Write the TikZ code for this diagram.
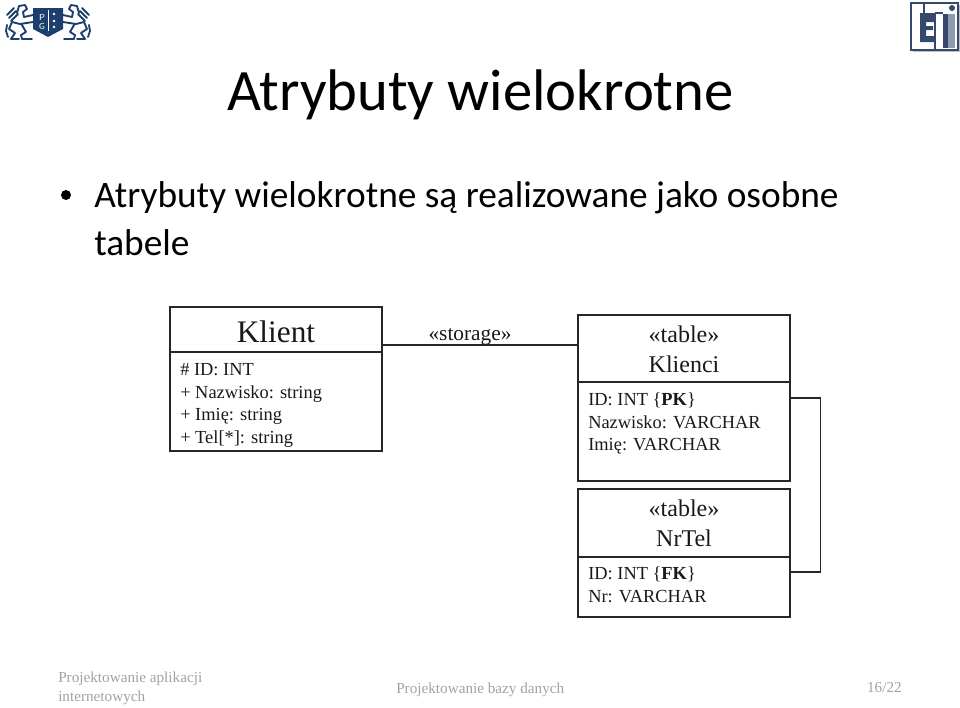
\documentclass[tikz,border=0pt]{standalone}
\usepackage{fontspec}
\setmainfont{Liberation Serif}
\newfontfamily\slidefont{Carlito}
\definecolor{pgnavy}{HTML}{1D3F6E}
\definecolor{etislate}{HTML}{34496B}
\definecolor{footgray}{HTML}{A2A2A2}
\tikzset{
  txt/.style={anchor=base west,inner sep=0pt},
  ctxt/.style={anchor=base,inner sep=0pt},
  umlbox/.style={draw=black!85,line width=0.9pt,inner sep=0pt,minimum width=159pt},
  link/.style={draw=black!85,line width=1pt},
  title/.style={txt,font=\slidefont\fontsize{44}{44}\selectfont},
  bullettext/.style={txt,font=\slidefont\fontsize{28}{28}\selectfont},
  attr/.style={txt,font=\fontsize{13.8}{13.8}\selectfont,text=black!90},
  stereo/.style={ctxt,font=\fontsize{18}{18}\selectfont,text=black!90},
  foot/.style={txt,font=\fontsize{11.4}{11.4}\selectfont,text=footgray},
  lionline/.style={pgnavy,line width=1.4pt,line join=round,line cap=round}
}
\begin{document}
\begin{tikzpicture}[x=0.75pt,y=0.75pt,yscale=-1,xscale=1]
    \useasboundingbox (0,0) rectangle (960,707);

    %Shape: university crest
    \foreach \flip/\move in {1/0pt,-1/72pt} {
    \begin{scope}[xshift=\move,xscale=\flip]
    \draw [lionline]
      (17,13) -- (19,6) -- (25,5) -- (27,9) -- (23,12) -- (24,17) -- (33,15)
      (7,15) -- (14,8) (9,18) -- (16,11) (11,21) -- (18,14)
      (12,22) -- (20,24) -- (33,22)
      (12,22) -- (9,29) -- (15,33) -- (11,39) -- (19,39)
      (22,25) -- (26,32) -- (21,35) -- (22,39) -- (32,39)
      (7,25) -- (6,31) -- (8,37);
    \end{scope}
    }
    \fill [pgnavy] (33,8) -- (63,8) -- (63,29) -- (48,37) -- (33,29) -- cycle ;
    \draw [white,line width=0.5pt] (48,10) -- (48,31) ;
    \draw (42,17) node (crestp) [white,font=\sffamily\fontsize{6.5}{6.5}\selectfont,inner sep=0pt] {P};
    \draw (42,26) node (crestg) [white,font=\sffamily\fontsize{6.5}{6.5}\selectfont,inner sep=0pt] {G};
    \fill [white] (54,14) circle (1.4) (54,21) circle (1.4) (54,27) circle (1.4);

    %Shape: faculty mark
    \fill [black!25] (913,5) rectangle (960,52) ;
    \fill [white] (911,3) rectangle (958,50) ;
    \fill [etislate] (920,13) rectangle (935,22) (920,13) rectangle (926,42) (920,26) rectangle (933,30) (920,36) rectangle (935,42) ;
    \fill [etislate] (943,14) rectangle (948,48) ;
    \fill [etislate!55] (948,14) rectangle (955,48) ;
    \fill [etislate] (952,8) circle (3) ;
    \draw [etislate,line width=1.2pt] (911,3) rectangle (958,50) (924,3) -- (924,13) (935,13) -- (935,50) (935,13) -- (943,13) ;

    % Text Node
    \draw (227,110) node (title) [title] {Atrybuty wielokrotne};
    % Text Node
    \fill (66,195) circle (5);
    \draw (94,207) node (line1) [bullettext] {Atrybuty wielokrotne są realizowane jako osobne};
    % Text Node
    \draw (94,255) node (line2) [bullettext] {tabele};

    %Shape: Rectangle
    \node (klient) [umlbox,minimum height=108pt] at (276,379) {};
    \node (klienci) [umlbox,minimum height=124.5pt] at (684,398) {};
    \node (nrtel) [umlbox,minimum height=96pt] at (684,553) {};

    %Straight Lines
    \draw [link] (klient.west |- 0,352) -- (klient.east |- 0,352) ;
    \draw [link] (klienci.west |- 0,382) -- (klienci.east |- 0,382) ;
    \draw [link] (nrtel.west |- 0,557) -- (nrtel.east |- 0,557) ;
    \draw [link] ([yshift=-25.5pt]klient.east) -- ([yshift=-39.75pt]klienci.west) ;
    \draw [link] (klienci.east) -- ++(30,0) |- ([yshift=14.25pt]nrtel.east) ;

    % Text Node
    \draw (276,342) node (klientname) [ctxt,font=\fontsize{23.5}{23.5}\selectfont,text=black!90] {Klient};
    % Text Node
    \draw (180,375) node (klientid) [attr] {\# ID: INT};
    \draw (180,398) node (klientnazwisko) [attr] {+ Nazwisko: string};
    \draw (180,420) node (klientimie) [attr] {+ Imię: string};
    \draw (180,443) node (klienttel) [attr] {+ Tel[*]: string};
    % Text Node
    \draw (470,340) node (storage) [ctxt,font=\fontsize{16}{16}\selectfont,text=black!90] {«storage»};
    % Text Node
    \draw (684,342) node (kliencistereo) [stereo] {«table»};
    \draw (684,372) node (kliencininame) [stereo] {Klienci};
    \draw (588,405) node (kliencinid) [attr] {ID: INT \{\textbf{PK}\}};
    \draw (588,428) node (kliencinazwisko) [attr] {Nazwisko: VARCHAR};
    \draw (588,450) node (klienciimie) [attr] {Imię: VARCHAR};
    % Text Node
    \draw (684,516) node (nrtelstereo) [stereo] {«table»};
    \draw (684,546) node (nrtelname) [stereo] {NrTel};
    \draw (588,579) node (nrtelid) [attr] {ID: INT \{\textbf{FK}\}};
    \draw (588,602) node (nrtelnr) [attr] {Nr: VARCHAR};
    % Text Node
    \draw (58,682) node (foota) [foot] {Projektowanie aplikacji};
    \draw (58,701) node (footb) [foot] {internetowych};
    \draw (396,693) node (footc) [foot] {Projektowanie bazy danych};
    \draw (902,692) node (footd) [foot,anchor=base east] {16/22};
\end{tikzpicture}
\end{document}
